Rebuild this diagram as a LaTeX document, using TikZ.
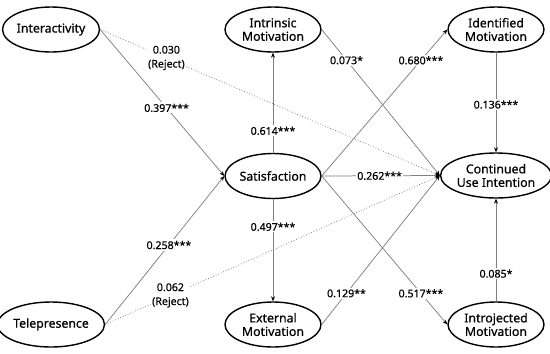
\documentclass[tikz,border=0pt]{standalone}
\usepackage{fontspec}
\setmainfont{Noto Sans}
\newfontfamily\nodefont[FakeBold=0.6]{Noto Sans}
\newfontfamily\coeffont[FakeBold=0.4]{Noto Sans}
\usetikzlibrary{shapes.geometric,arrows.meta}
\begin{document}
\begin{tikzpicture}[x=1pt,y=-1pt,
  construct/.style={ellipse,draw=black,line width=1.4pt,minimum width=96pt,minimum height=45pt,inner sep=0pt,align=center,font=\nodefont\fontsize{12.3}{13.5}\selectfont},
  path/.style={draw=black!50,line width=0.75pt,-{Stealth[length=5pt,width=4pt,black]}},
  reject/.style={path,dotted,line width=0.8pt},
  coef/.style={fill=white,inner sep=1.5pt,align=center,font=\coeffont\fontsize{10.6}{14}\selectfont}]
\useasboundingbox (0,0) rectangle (550,354);
\node[construct] (int) at (51,29.5) {Interactivity};
\node[construct] (tel) at (51,324.5) {Telepresence};
\node[construct] (sat) at (273,176) {Satisfaction};
\node[construct] (intr) at (273,29.5) {Intrinsic\\Motivation};
\node[construct] (ext) at (273,324.5) {External\\Motivation};
\node[construct] (ide) at (496,29.5) {Identified\\Motivation};
\node[construct] (intro) at (496,324.5) {Introjected\\Motivation};
\node[construct] (cui) at (496,175.5) {Continued\\Use Intention};

\draw[reject] (int.east) -- node[coef,pos=0.195] {0.030\\(Reject)} (cui.west);
\draw[reject] (tel.east) -- node[coef,pos=0.195] {0.062\\(Reject)} (cui.west);
\draw[path] (int.east) -- node[coef,pos=0.535] {0.397***} (sat.west);
\draw[path] (tel.east) -- node[coef,pos=0.535] {0.258***} (sat.west);
\draw[path] (sat.north) -- node[coef,pos=0.22] {0.614***} (intr.south);
\draw[path] (sat.south) -- node[coef,pos=0.27] {0.497***} (ext.north);
\draw[path] (sat.east) -- node[coef,pos=0.49] {0.262***} (cui.west);
\draw[path] (sat.east) -- node[coef,pos=0.79] {0.680***} (ide.west);
\draw[path] (sat.east) -- node[coef,pos=0.79] {0.517***} (intro.west);
\draw[path] (intr.east) -- node[coef,pos=0.21] {0.073*} (cui.west);
\draw[path] (ext.east) -- node[coef,pos=0.21] {0.129**} (cui.west);
\draw[path] (ide.south) -- node[coef,pos=0.52] {0.136***} (cui.north);
\draw[path] (intro.north) -- node[coef,pos=0.27] {0.085*} (cui.south);
\end{tikzpicture}
\end{document}
